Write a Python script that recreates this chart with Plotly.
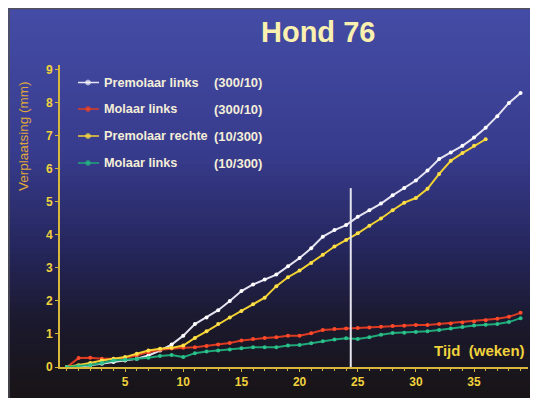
import plotly.graph_objects as go

# ---------------- data ----------------
weeks_premolaar_links = list(range(0, 40))
premolaar_links_300_10 = [0.0, 0.0, 0.05, 0.1, 0.15, 0.2, 0.25, 0.35, 0.5, 0.68, 0.95, 1.3, 1.5, 1.72, 2.0,
                          2.3, 2.5, 2.65, 2.8, 3.05, 3.3, 3.6, 3.95, 4.15, 4.3, 4.55, 4.75, 4.95, 5.2,
                          5.42, 5.65, 5.95, 6.3, 6.5, 6.7, 6.95, 7.25, 7.6, 8.0, 8.3]

weeks_molaar_links_a = list(range(0, 40))
molaar_links_300_10 = [0.0, 0.27, 0.28, 0.25, 0.25, 0.28, 0.35, 0.45, 0.52, 0.56, 0.58, 0.6, 0.64, 0.68,
                       0.73, 0.8, 0.85, 0.88, 0.9, 0.95, 0.95, 1.02, 1.12, 1.15, 1.17, 1.18, 1.2, 1.22,
                       1.24, 1.25, 1.27, 1.27, 1.3, 1.32, 1.35, 1.38, 1.42, 1.46, 1.52, 1.64]

weeks_premolaar_rechte = list(range(0, 37))
premolaar_rechte_10_300 = [0.0, 0.05, 0.12, 0.2, 0.25, 0.3, 0.4, 0.5, 0.55, 0.58, 0.65, 0.88, 1.08, 1.3,
                           1.5, 1.7, 1.9, 2.1, 2.45, 2.72, 2.92, 3.15, 3.4, 3.65, 3.85, 4.05, 4.28, 4.5,
                           4.75, 4.98, 5.12, 5.4, 5.85, 6.25, 6.48, 6.7, 6.9]

weeks_molaar_links_b = list(range(0, 40))
molaar_links_10_300 = [0.0, 0.02, 0.06, 0.12, 0.2, 0.22, 0.24, 0.28, 0.33, 0.36, 0.3, 0.42, 0.47, 0.5,
                       0.53, 0.57, 0.6, 0.6, 0.6, 0.65, 0.67, 0.72, 0.78, 0.83, 0.87, 0.85, 0.9, 0.98,
                       1.03, 1.04, 1.06, 1.08, 1.12, 1.17, 1.21, 1.26, 1.28, 1.3, 1.36, 1.48]

series_names = ["Premolaar links", "Molaar links", "Premolaar rechte", "Molaar links"]
series_codes = ["(300/10)", "(300/10)", "(10/300)", "(10/300)"]
x_tick_vals = [5, 10, 15, 20, 25, 30, 35]
y_tick_vals = [0, 1, 2, 3, 4, 5, 6, 7, 8, 9]
event_week = 24.4
event_top = 5.42

title_text = "Hond 76"
y_title = "Verplaatsing (mm)"
x_title = "Tijd  (weken)"

# ---------------- styling ----------------
OFF = 8                      # page offset of the figure (body margin)
W, H = 530, 390              # figure size
ML, MR, MT, MB = 52, 10, 57, 31
PW, PH = W - ML - MR, H - MT - MB

def px(x):                   # page pixel x -> plot paper x
    return (x - OFF - ML) / PW

def py(y):                   # page pixel y -> plot paper y
    return (H - MB - (y - OFF)) / PH

line_colors = ["#e6e4f2", "#dc3a22", "#f2d232", "#1fa878"]
marker_colors = ["#ffffff", "#ff4a2a", "#ffe04a", "#2cc08a"]
TICK_YELLOW = "#f0d23c"
AXIS_YELLOW = "#d8b83a"
FONT = "Liberation Sans, Arial, sans-serif"

xs = [weeks_premolaar_links, weeks_molaar_links_a, weeks_premolaar_rechte, weeks_molaar_links_b]
ys = [premolaar_links_300_10, molaar_links_300_10, premolaar_rechte_10_300, molaar_links_10_300]

fig = go.Figure()
for i in range(4):
    fig.add_trace(go.Scatter(
        x=xs[i], y=ys[i], mode="lines+markers", name=series_names[i] + " " + series_codes[i],
        line=dict(color=line_colors[i], width=2),
        marker=dict(color=marker_colors[i], size=4),
        showlegend=False, hoverinfo="skip"))

# legend samples on an overlay axis spanning the plot area (0..1)
leg_rows_y = [82.5, 109, 136, 163]
for i in range(4):
    yy = py(leg_rows_y[i])
    fig.add_trace(go.Scatter(
        x=[px(78), px(88), px(99)], y=[yy, yy, yy], xaxis="x2", yaxis="y2",
        mode="lines+markers", line=dict(color=line_colors[i], width=1.5),
        marker=dict(color=marker_colors[i], size=[0, 5, 0]),
        showlegend=False, hoverinfo="skip", cliponaxis=False))

shapes = []
# gradient background (slide)
stops = [(8, (68, 76, 166)), (150, (56, 60, 142)), (250, (37, 38, 92)),
         (320, (27, 25, 46)), (398, (24, 20, 22))]

def col_at(y):
    for (y0, c0), (y1, c1) in zip(stops[:-1], stops[1:]):
        if y0 <= y <= y1:
            t = (y - y0) / (y1 - y0)
            return tuple(int(round(c0[k] + (c1[k] - c0[k]) * t)) for k in range(3))
    return stops[-1][1]

step = 6
y = 8
while y < OFF + H:
    y2 = min(y + step, OFF + H + 2)
    c = col_at(y + step / 2)
    shapes.append(dict(type="rect", xref="paper", yref="paper", x0=px(8), x1=px(OFF + W + 2),
                       y0=py(y2), y1=py(y), fillcolor="rgb(%d,%d,%d)" % c,
                       line=dict(width=0), layer="below"))
    y = y2
# frame lines
shapes.append(dict(type="line", xref="paper", yref="paper", x0=px(8.5), x1=px(OFF + W + 2), y0=py(8.5), y1=py(8.5),
                   line=dict(color="#505058", width=1.5), layer="below"))
shapes.append(dict(type="line", xref="paper", yref="paper", x0=px(9), x1=px(9), y0=py(8.5), y1=py(OFF + H + 2),
                   line=dict(color="#505058", width=1.5), layer="below"))
# event vertical line
shapes.append(dict(type="line", xref="x", yref="y", x0=event_week, x1=event_week, y0=-0.15, y1=event_top,
                   line=dict(color="#e4e4ee", width=2)))

annotations = []
annotations.append(dict(text=title_text, xref="paper", yref="paper", x=px(318), y=py(32),
                        showarrow=False, xanchor="center", yanchor="middle",
                        font=dict(family=FONT, size=29, color="#faf0b0", weight="bold")))
annotations.append(dict(text=y_title, xref="paper", yref="paper", x=px(23), y=py(136), textangle=-90,
                        showarrow=False, xanchor="center", yanchor="middle",
                        font=dict(family=FONT, size=13.5, color="#e0a83a")))
annotations.append(dict(text=x_title, xref="paper", yref="paper", x=px(527), y=py(350),
                        showarrow=False, xanchor="right", yanchor="middle",
                        font=dict(family=FONT, size=15, color=TICK_YELLOW, weight="bold")))
for i in range(4):
    annotations.append(dict(text=series_names[i], xref="paper", yref="paper", x=px(102), y=py(leg_rows_y[i]),
                            showarrow=False, xanchor="left", yanchor="middle",
                            font=dict(family=FONT, size=12.7, color="#f4eed8", weight="bold")))
    annotations.append(dict(text=series_codes[i], xref="paper", yref="paper", x=px(212), y=py(leg_rows_y[i]),
                            showarrow=False, xanchor="left", yanchor="middle",
                            font=dict(family=FONT, size=13, color="#f4eed8", weight="bold")))

fig.update_layout(
    width=W, height=H,
    margin=dict(l=ML, r=MR, t=MT, b=MB, pad=0),
    paper_bgcolor="white", plot_bgcolor="rgba(0,0,0,0)",
    shapes=shapes, annotations=annotations, showlegend=False,
    xaxis=dict(range=[-0.6, 39.64], tickvals=x_tick_vals, showgrid=False, zeroline=False,
               showline=True, linecolor=AXIS_YELLOW, linewidth=2, ticks="outside", ticklen=3,
               tickcolor=AXIS_YELLOW, tickwidth=1,
               minor=dict(dtick=1, tick0=0, ticks="outside", ticklen=2, tickcolor=AXIS_YELLOW, showgrid=False),
               tickfont=dict(family=FONT, size=12, color=TICK_YELLOW, weight="bold"), fixedrange=True),
    yaxis=dict(range=[0, 9.15], tickvals=y_tick_vals, showgrid=False, zeroline=False,
               showline=True, linecolor=AXIS_YELLOW, linewidth=2, ticks="outside", ticklen=3,
               tickcolor=AXIS_YELLOW, tickwidth=1, ticklabelstandoff=0,
               tickfont=dict(family=FONT, size=12, color=TICK_YELLOW, weight="bold"), fixedrange=True),
    xaxis2=dict(domain=[0, 1], range=[0, 1], overlaying="x", visible=False, anchor="y2", fixedrange=True),
    yaxis2=dict(domain=[0, 1], range=[0, 1], overlaying="y", visible=False, anchor="x2", fixedrange=True),
)

fig.write_html("out.html")
